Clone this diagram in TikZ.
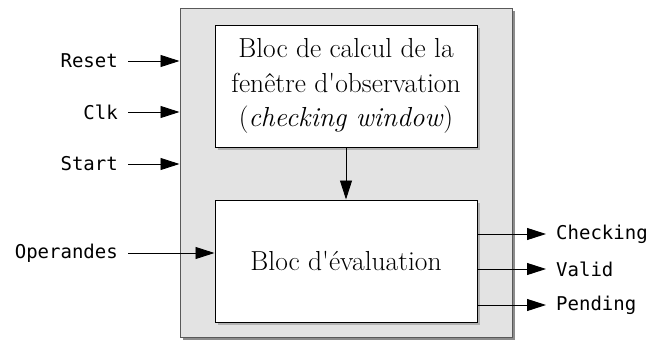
\documentclass[tikz,border=0pt]{standalone}
\usepackage{fontspec}
\setmonofont{DejaVu Sans Mono}
\usetikzlibrary{arrows.meta,shadows}
\begin{document}
\begin{tikzpicture}[x=1pt,y=-1pt,
  sig/.style={font=\ttfamily\fontsize{19}{22}\selectfont, inner sep=0pt},
  blk/.style={draw=black, line width=1pt, fill=white, minimum width=262pt, minimum height=122pt,
     align=center, font=\fontsize{27.5}{34.5}\selectfont,
     drop shadow={shadow xshift=3pt, shadow yshift=-3pt, fill=black!30, opacity=1}},
  outerbox/.style={draw=black!65, line width=1pt, fill=black!11, minimum width=332pt, minimum height=329pt,
     drop shadow={shadow xshift=3pt, shadow yshift=-3pt, fill=black!45, opacity=1}},
  arr/.style={-{Triangle[length=19pt,width=12pt]}, line width=0.9pt}
]
\useasboundingbox (0,0) rectangle (650,340);
\node[outerbox] (outer) at (346,172.5) {};
\node[blk] (calc) at (346,86) {Bloc de calcul de la\\fenêtre d\textquotesingle observation\\(\textit{checking window})};
\node[blk] (eval) at (346,261) {Bloc d\textquotesingle évaluation};
\draw[arr] (calc.south) -- (eval.north);

\node[sig, anchor=east] (reset) at (118,61) {Reset};
\node[sig, anchor=east] (clk) at (118,112) {Clk};
\node[sig, anchor=east] (start) at (118,164) {Start};
\node[sig, anchor=east] (oper) at (118,253) {Operandes};
\draw[arr] ([xshift=10pt]reset.east) -- (reset.east -| outer.west);
\draw[arr] ([xshift=10pt]clk.east) -- (clk.east -| outer.west);
\draw[arr] ([xshift=10pt]start.east) -- (start.east -| outer.west);
\draw[arr] ([xshift=10pt]oper.east) -- (oper.east -| eval.west);

\node[sig, anchor=west] (chk) at (556,234) {Checking};
\node[sig, anchor=west] (val) at (556,269) {Valid};
\node[sig, anchor=west] (pen) at (556,305) {Pending};
\draw[arr] (chk.west -| eval.east) -- ([xshift=-10pt]chk.west);
\draw[arr] (val.west -| eval.east) -- ([xshift=-10pt]val.west);
\draw[arr] (pen.west -| eval.east) -- ([xshift=-10pt]pen.west);
\end{tikzpicture}
\end{document}
